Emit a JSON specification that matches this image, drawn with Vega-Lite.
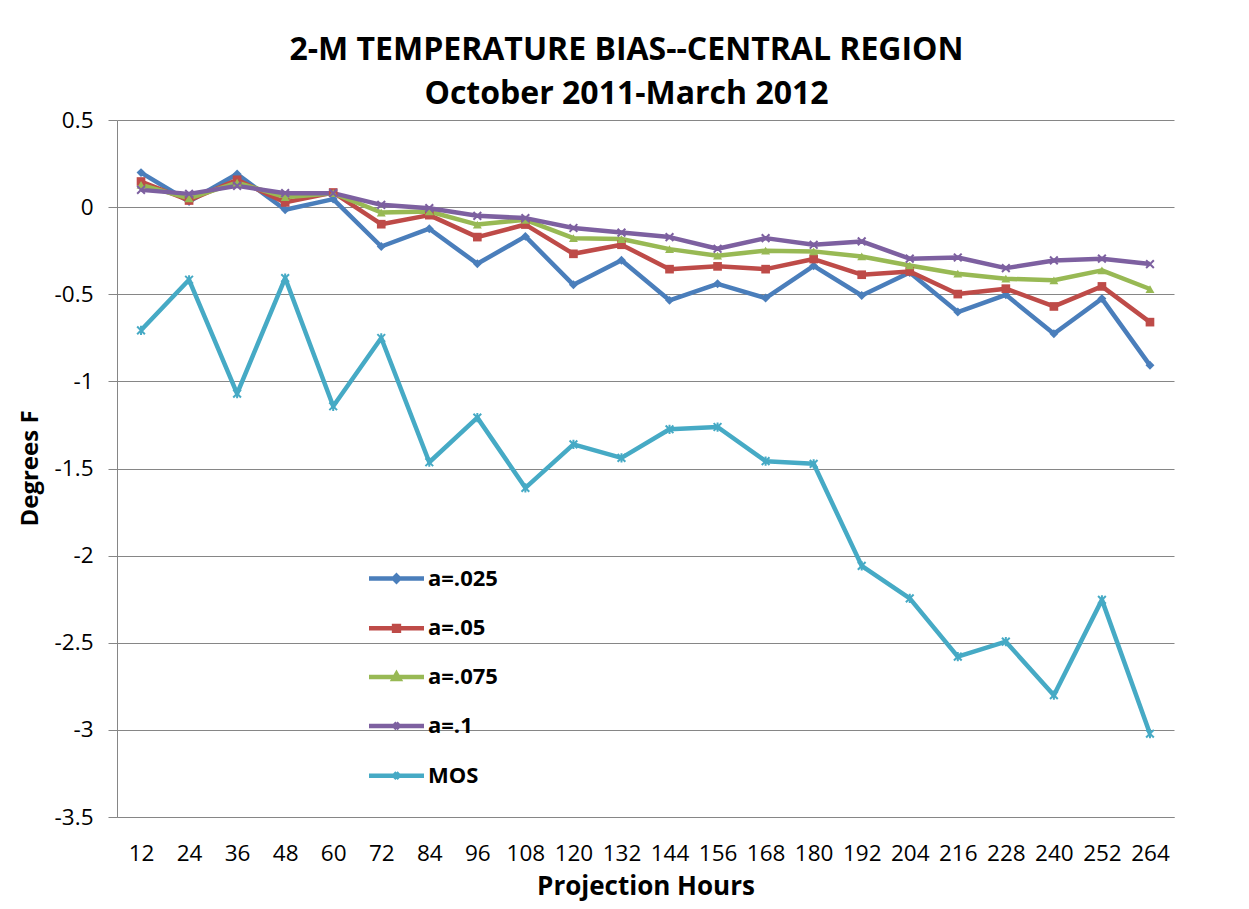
{
  "$schema": "https://vega.github.io/schema/vega-lite/v6.json",
  "width": 1057,
  "height": 697,
  "autosize": {"type": "none"},
  "padding": {"left": 117, "top": 120, "right": 75, "bottom": 92},
  "background": "white",
  "config": {"view": {"stroke": null}},
  "title": {
    "text": ["2-M TEMPERATURE BIAS--CENTRAL REGION", "October 2011-March 2012"],
    "font": "Open Sans",
    "fontSize": 32,
    "fontWeight": "bold",
    "color": "#000000",
    "anchor": "middle",
    "dx": -19,
    "dy": 14,
    "lineHeight": 44,
    "offset": 12
  },
  "datasets": {
    "bias": [
      {"h": 12, "series": "a=.025", "v": 0.198}, {"h": 24, "series": "a=.025", "v": 0.032}, {"h": 36, "series": "a=.025", "v": 0.19}, {"h": 48, "series": "a=.025", "v": -0.015}, {"h": 60, "series": "a=.025", "v": 0.046}, {"h": 72, "series": "a=.025", "v": -0.226}, {"h": 84, "series": "a=.025", "v": -0.124}, {"h": 96, "series": "a=.025", "v": -0.325}, {"h": 108, "series": "a=.025", "v": -0.168}, {"h": 120, "series": "a=.025", "v": -0.446}, {"h": 132, "series": "a=.025", "v": -0.305}, {"h": 144, "series": "a=.025", "v": -0.535}, {"h": 156, "series": "a=.025", "v": -0.44}, {"h": 168, "series": "a=.025", "v": -0.522}, {"h": 180, "series": "a=.025", "v": -0.337}, {"h": 192, "series": "a=.025", "v": -0.507}, {"h": 204, "series": "a=.025", "v": -0.375}, {"h": 216, "series": "a=.025", "v": -0.602}, {"h": 228, "series": "a=.025", "v": -0.503}, {"h": 240, "series": "a=.025", "v": -0.727}, {"h": 252, "series": "a=.025", "v": -0.525}, {"h": 264, "series": "a=.025", "v": -0.908},
      {"h": 12, "series": "a=.05", "v": 0.147}, {"h": 24, "series": "a=.05", "v": 0.038}, {"h": 36, "series": "a=.05", "v": 0.157}, {"h": 48, "series": "a=.05", "v": 0.027}, {"h": 60, "series": "a=.05", "v": 0.084}, {"h": 72, "series": "a=.05", "v": -0.098}, {"h": 84, "series": "a=.05", "v": -0.046}, {"h": 96, "series": "a=.05", "v": -0.172}, {"h": 108, "series": "a=.05", "v": -0.1}, {"h": 120, "series": "a=.05", "v": -0.268}, {"h": 132, "series": "a=.05", "v": -0.216}, {"h": 144, "series": "a=.05", "v": -0.356}, {"h": 156, "series": "a=.05", "v": -0.34}, {"h": 168, "series": "a=.05", "v": -0.356}, {"h": 180, "series": "a=.05", "v": -0.298}, {"h": 192, "series": "a=.05", "v": -0.388}, {"h": 204, "series": "a=.05", "v": -0.369}, {"h": 216, "series": "a=.05", "v": -0.499}, {"h": 228, "series": "a=.05", "v": -0.468}, {"h": 240, "series": "a=.05", "v": -0.57}, {"h": 252, "series": "a=.05", "v": -0.455}, {"h": 264, "series": "a=.05", "v": -0.66},
      {"h": 12, "series": "a=.075", "v": 0.128}, {"h": 24, "series": "a=.075", "v": 0.05}, {"h": 36, "series": "a=.075", "v": 0.141}, {"h": 48, "series": "a=.075", "v": 0.057}, {"h": 60, "series": "a=.075", "v": 0.08}, {"h": 72, "series": "a=.075", "v": -0.031}, {"h": 84, "series": "a=.075", "v": -0.025}, {"h": 96, "series": "a=.075", "v": -0.1}, {"h": 108, "series": "a=.075", "v": -0.073}, {"h": 120, "series": "a=.075", "v": -0.178}, {"h": 132, "series": "a=.075", "v": -0.183}, {"h": 144, "series": "a=.075", "v": -0.241}, {"h": 156, "series": "a=.075", "v": -0.279}, {"h": 168, "series": "a=.075", "v": -0.25}, {"h": 180, "series": "a=.075", "v": -0.254}, {"h": 192, "series": "a=.075", "v": -0.283}, {"h": 204, "series": "a=.075", "v": -0.335}, {"h": 216, "series": "a=.075", "v": -0.382}, {"h": 228, "series": "a=.075", "v": -0.411}, {"h": 240, "series": "a=.075", "v": -0.42}, {"h": 252, "series": "a=.075", "v": -0.363}, {"h": 264, "series": "a=.075", "v": -0.47},
      {"h": 12, "series": "a=.1", "v": 0.099}, {"h": 24, "series": "a=.1", "v": 0.076}, {"h": 36, "series": "a=.1", "v": 0.122}, {"h": 48, "series": "a=.1", "v": 0.08}, {"h": 60, "series": "a=.1", "v": 0.08}, {"h": 72, "series": "a=.1", "v": 0.013}, {"h": 84, "series": "a=.1", "v": -0.006}, {"h": 96, "series": "a=.1", "v": -0.05}, {"h": 108, "series": "a=.1", "v": -0.063}, {"h": 120, "series": "a=.1", "v": -0.12}, {"h": 132, "series": "a=.1", "v": -0.146}, {"h": 144, "series": "a=.1", "v": -0.172}, {"h": 156, "series": "a=.1", "v": -0.239}, {"h": 168, "series": "a=.1", "v": -0.178}, {"h": 180, "series": "a=.1", "v": -0.216}, {"h": 192, "series": "a=.1", "v": -0.197}, {"h": 204, "series": "a=.1", "v": -0.296}, {"h": 216, "series": "a=.1", "v": -0.289}, {"h": 228, "series": "a=.1", "v": -0.35}, {"h": 240, "series": "a=.1", "v": -0.306}, {"h": 252, "series": "a=.1", "v": -0.296}, {"h": 264, "series": "a=.1", "v": -0.327},
      {"h": 12, "series": "MOS", "v": -0.707}, {"h": 24, "series": "MOS", "v": -0.417}, {"h": 36, "series": "MOS", "v": -1.07}, {"h": 48, "series": "MOS", "v": -0.407}, {"h": 60, "series": "MOS", "v": -1.143}, {"h": 72, "series": "MOS", "v": -0.751}, {"h": 84, "series": "MOS", "v": -1.464}, {"h": 96, "series": "MOS", "v": -1.208}, {"h": 108, "series": "MOS", "v": -1.611}, {"h": 120, "series": "MOS", "v": -1.362}, {"h": 132, "series": "MOS", "v": -1.439}, {"h": 144, "series": "MOS", "v": -1.275}, {"h": 156, "series": "MOS", "v": -1.262}, {"h": 168, "series": "MOS", "v": -1.458}, {"h": 180, "series": "MOS", "v": -1.473}, {"h": 192, "series": "MOS", "v": -2.059}, {"h": 204, "series": "MOS", "v": -2.245}, {"h": 216, "series": "MOS", "v": -2.58}, {"h": 228, "series": "MOS", "v": -2.494}, {"h": 240, "series": "MOS", "v": -2.801}, {"h": 252, "series": "MOS", "v": -2.254}, {"h": 264, "series": "MOS", "v": -3.022}
    ]
  },
  "data": {"name": "bias"},
  "encoding": {
    "x": {
      "field": "h",
      "type": "ordinal",
      "scale": {"type": "point", "padding": 0.5},
      "axis": {
        "labelAngle": 0,
        "labelFont": "Open Sans",
        "labelFontSize": 22.5,
        "labelColor": "#000000",
        "labelBaseline": "middle",
        "labelPadding": 36,
        "labelOverlap": false,
        "ticks": false,
        "tickSize": 0,
        "grid": false,
        "domain": true,
        "domainColor": "#868686",
        "domainWidth": 1,
        "title": "Projection Hours",
        "titleFont": "Open Sans",
        "titleFontSize": 26,
        "titleFontWeight": "bold",
        "titleColor": "#000000",
        "titleY": 69,
        "titleBaseline": "middle"
      }
    },
    "y": {
      "field": "v",
      "type": "quantitative",
      "scale": {"domain": [-3.5, 0.5], "nice": false, "zero": false},
      "axis": {
        "values": [-3.5, -3, -2.5, -2, -1.5, -1, -0.5, 0, 0.5],
        "labelExpr": "toString(datum.value)",
        "labelFont": "Open Sans",
        "labelFontSize": 22.5,
        "labelColor": "#000000",
        "labelPadding": 15,
        "ticks": true,
        "tickSize": 9,
        "tickColor": "#868686",
        "grid": true,
        "gridColor": "#868686",
        "gridWidth": 1,
        "domain": true,
        "domainColor": "#868686",
        "title": "Degrees F",
        "titleFont": "Open Sans",
        "titleFontSize": 24,
        "titleFontWeight": "bold",
        "titleColor": "#000000",
        "titleX": -87,
        "titleY": 348,
        "titleAngle": -90,
        "titleAlign": "center",
        "titleBaseline": "middle"
      }
    }
  },
  "layer": [
    {
      "mark": {"type": "line", "strokeWidth": 4.5, "strokeJoin": "round"},
      "encoding": {
        "color": {
          "field": "series",
          "type": "nominal",
          "scale": {
            "domain": ["a=.025", "a=.05", "a=.075", "a=.1", "MOS"],
            "range": ["#4A7EBB", "#BE4B48", "#98B954", "#7D60A0", "#46AAC5"]
          },
          "legend": {
            "title": null,
            "orient": "none",
            "legendX": 266,
            "legendY": 445,
            "padding": 0,
            "symbolType": "M-2.5,0H2.5",
            "symbolSize": 484,
            "symbolStrokeWidth": 4.5,
            "symbolFillColor": "transparent",
            "labelFont": "Open Sans",
            "labelFontSize": 22,
            "labelFontWeight": "bold",
            "labelColor": "#000000",
            "labelOffset": 18,
            "rowPadding": 23.8,
            "encode": {
              "symbols": {
                "update": {
                  "shape": {"signal": "datum.value === 'a=.025' ? 'M-2.5,0H2.5M0,-0.25L0.25,0L0,0.25L-0.25,0Z' : datum.value === 'a=.05' ? 'M-2.5,0H2.5M-0.22,-0.22H0.22V0.22H-0.22Z' : datum.value === 'a=.075' ? 'M-2.5,0H2.5M0,-0.28L0.26,0.18H-0.26Z' : datum.value === 'a=.1' ? 'M-2.5,0H2.5M-0.25,-0.25L0.25,0.25M-0.25,0.25L0.25,-0.25' : 'M-2.5,0H2.5M-0.25,-0.25L0.25,0.25M-0.25,0.25L0.25,-0.25M0,-0.3V0.3'"}
                }
              }
            }
          }
        }
      }
    },
    {
      "transform": [{"filter": "datum.series === 'a=.025'"}],
      "mark": {"type": "point", "shape": "diamond", "filled": true, "size": 80, "color": "#4A7EBB", "opacity": 1}
    },
    {
      "transform": [{"filter": "datum.series === 'a=.05'"}],
      "mark": {"type": "point", "shape": "square", "filled": true, "size": 75, "color": "#BE4B48", "opacity": 1}
    },
    {
      "transform": [{"filter": "datum.series === 'a=.075'"}],
      "mark": {"type": "point", "shape": "triangle-up", "filled": true, "size": 80, "color": "#98B954", "opacity": 1}
    },
    {
      "transform": [{"filter": "datum.series === 'a=.1'"}],
      "mark": {"type": "point", "shape": "M-1,-1L1,1M-1,1L1,-1", "filled": false, "size": 60, "strokeWidth": 2, "color": "#7D60A0", "opacity": 1}
    },
    {
      "transform": [{"filter": "datum.series === 'MOS'"}],
      "mark": {"type": "point", "shape": "M-1,-1L1,1M-1,1L1,-1M0,-1.2L0,1.2", "filled": false, "size": 60, "strokeWidth": 2, "color": "#46AAC5", "opacity": 1}
    }
  ]
}
